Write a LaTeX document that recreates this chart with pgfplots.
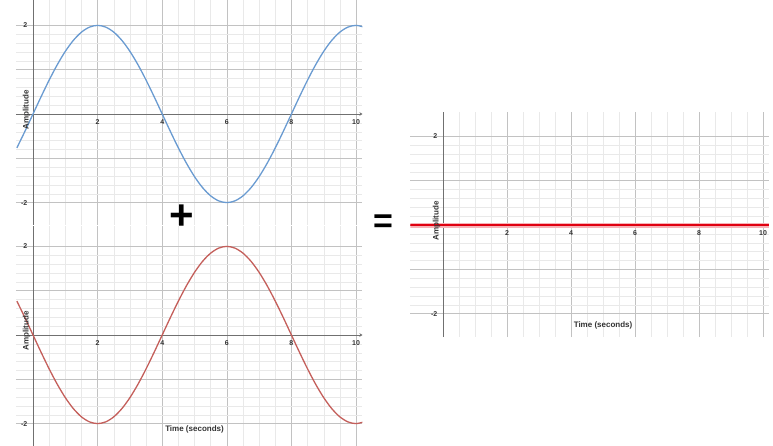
\documentclass[border=0pt]{standalone}
\usepackage{fontspec}
\setmainfont{Liberation Sans}
\usepackage{pgfplots}
\usepackage{pgfplotstable}
\pgfplotsset{compat=1.18}
\usetikzlibrary{arrows.meta}

\definecolor{wblue}{HTML}{6A9BD1}
\definecolor{wred}{HTML}{C45F5B}
\definecolor{sumred}{HTML}{E00010}
\definecolor{glow}{HTML}{F6B3B8}
\definecolor{gmaj}{HTML}{C2C2C2}
\definecolor{gmin}{HTML}{E9E9E9}
\definecolor{axc}{HTML}{707070}

% x, top wave (a), bottom wave (b)
\pgfplotstableread{
x     a        b
-0.5  -0.7654  0.7654
-0.25 -0.3902  0.3902
0      0       0
0.25   0.3902 -0.3902
0.5    0.7654 -0.7654
0.75   1.1111 -1.1111
1      1.4142 -1.4142
1.25   1.6629 -1.6629
1.5    1.8478 -1.8478
1.75   1.9616 -1.9616
2      2      -2
2.25   1.9616 -1.9616
2.5    1.8478 -1.8478
2.75   1.6629 -1.6629
3      1.4142 -1.4142
3.25   1.1111 -1.1111
3.5    0.7654 -0.7654
3.75   0.3902 -0.3902
4      0       0
4.25  -0.3902  0.3902
4.5   -0.7654  0.7654
4.75  -1.1111  1.1111
5     -1.4142  1.4142
5.25  -1.6629  1.6629
5.5   -1.8478  1.8478
5.75  -1.9616  1.9616
6     -2       2
6.25  -1.9616  1.9616
6.5   -1.8478  1.8478
6.75  -1.6629  1.6629
7     -1.4142  1.4142
7.25  -1.1111  1.1111
7.5   -0.7654  0.7654
7.75  -0.3902  0.3902
8      0       0
8.25   0.3902 -0.3902
8.5    0.7654 -0.7654
8.75   1.1111 -1.1111
9      1.4142 -1.4142
9.25   1.6629 -1.6629
9.5    1.8478 -1.8478
9.75   1.9616 -1.9616
10     2      -2
10.25  1.9616 -1.9616
}\waves

\tikzset{lbl/.style={font=\fontsize{8}{9}\selectfont\bfseries, text=black!80}}

\pgfplotsset{
  wave/.style={
    y=44.3pt,
    anchor=south west,
    axis lines=middle,
    axis line style={axc, line width=0.8pt},
    x axis line style={-{Stealth[length=3pt,width=3.5pt]}},
    y axis line style={-},
    grid=both,
    major grid style={gmaj, line width=0.6pt},
    minor grid style={gmin, line width=0.4pt},
    xtick={0,2,...,10}, xticklabels={{},2,4,6,8,10},
    ytick={-2,-1,...,2}, yticklabels={-2,{},{},{},2},
    minor x tick num=3, minor y tick num=4,
    tick style={draw=none},
    ticklabel style={font=\fontsize{7}{8}\selectfont\bfseries, text=black!80},
    /pgf/number format/assume math mode=true,
  },
}

\begin{document}
\begin{tikzpicture}
\useasboundingbox (0,0) rectangle (773pt,446pt);

% top wave
\begin{axis}[wave, x=32.3pt, at={(15.9pt,221.25pt)},
  xmin=-0.53, xmax=10.2, ymin=-2.5, ymax=2.57]
  \addplot[wblue, line width=1.3pt, smooth] table[x=x, y=a] {\waves};
  \node[lbl, rotate=90] at (axis cs:-0.2,0.09) {Amplitude};
\end{axis}

% bottom wave
\begin{axis}[wave, x=32.3pt, at={(15.9pt,0.25pt)},
  xmin=-0.53, xmax=10.2, ymin=-2.5, ymax=2.45]
  \addplot[wred, line width=1.3pt, smooth] table[x=x, y=b] {\waves};
  \node[lbl, rotate=90] at (axis cs:-0.2,0.09) {Amplitude};
  \node[lbl] at (axis cs:5.0,-2.14) {Time (seconds)};
\end{axis}

% sum
\begin{axis}[wave, x=32pt, at={(410.4pt,108.9pt)},
  xmin=-1.02, xmax=10.18, ymin=-2.53, ymax=2.55]
  \addplot[glow, line width=5pt] coordinates {(-1.02,0) (10.18,0)};
  \addplot[sumred, line width=2.2pt] coordinates {(-1.02,0) (10.18,0)};
  \node[lbl, rotate=90] at (axis cs:-0.2,0.09) {Amplitude};
  \node[lbl] at (axis cs:5.0,-2.26) {Time (seconds)};
\end{axis}

\node[font=\fontsize{42}{42}\selectfont\bfseries] at (182pt,229pt) {+};
\node[font=\fontsize{34}{34}\selectfont\bfseries] at (383pt,222pt) {=};
\end{tikzpicture}
\end{document}
